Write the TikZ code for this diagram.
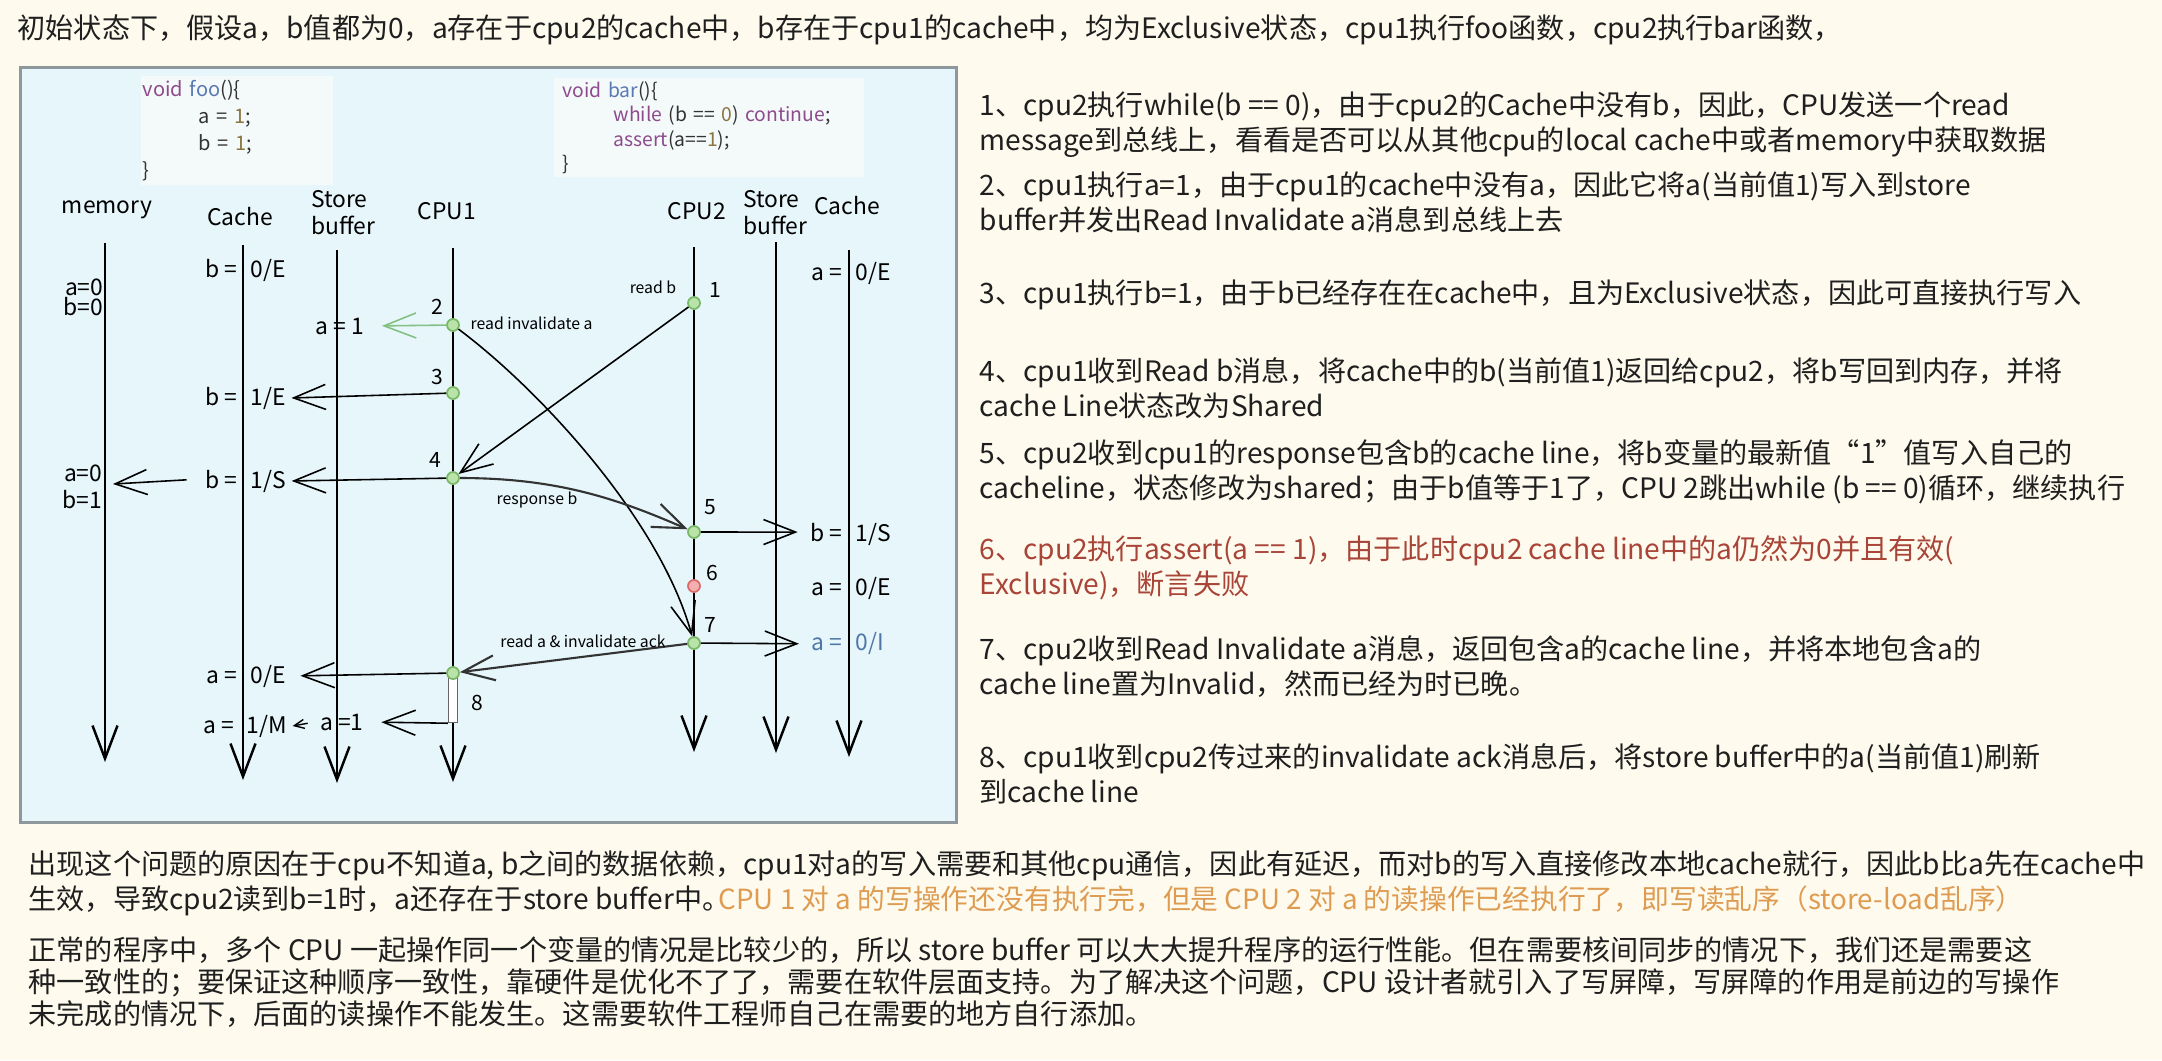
\documentclass[tikz,border=0pt]{standalone}
\usepackage{fontspec}
\setmainfont{Noto Sans CJK SC}
\usetikzlibrary{arrows.meta}
\definecolor{paper}{HTML}{FEFBEE}
\definecolor{panel}{HTML}{E6F6FB}
\definecolor{panelrule}{HTML}{8E979C}
\definecolor{codebg}{HTML}{F4F9FA}
\definecolor{kw}{HTML}{8E4B8C}
\definecolor{fn}{HTML}{5A78B4}
\definecolor{lit}{HTML}{8A7440}
\definecolor{okfill}{HTML}{B9E3A9}
\definecolor{okrule}{HTML}{78B866}
\definecolor{badfill}{HTML}{F4B0B0}
\definecolor{badrule}{HTML}{DD6A6A}
\definecolor{storeln}{HTML}{84BF84}
\definecolor{fail}{HTML}{A94438}
\definecolor{hint}{HTML}{DE9C52}
\definecolor{inval}{HTML}{4F77A6}
\definecolor{ink}{HTML}{1F1F1F}

\begin{document}
\begin{tikzpicture}[x=0.1mm,y=-0.1mm,
  txt/.style={anchor=base west,inner sep=0,align=left,font=\fontsize{8}{9.7}\selectfont,text=ink},
  code/.style={anchor=north west,fill=codebg,align=left,font=\fontsize{5.7}{7.7}\selectfont,text=black!80},
  hd/.style={inner sep=0,font=\fontsize{6.5}{7.7}\selectfont,align=left},
  st/.style={inner sep=0.5mm,font=\fontsize{6.5}{7.6}\selectfont},
  ev/.style={circle,draw=okrule,fill=okfill,line width=0.5pt,minimum size=1.2mm,inner sep=0},
  num/.style={inner sep=0,font=\fontsize{6}{7}\selectfont},
  lbl/.style={inner sep=0,font=\fontsize{4.5}{5}\selectfont},
  life/.style={line width=0.7pt,-{Straight Barb[length=3.3mm,width=2.5mm]}},
  msg/.style={line width=0.45pt,-{Straight Barb[length=3.2mm,width=2.5mm]}}]
  \fill[paper] (0,0) rectangle (2162,1060);
  \useasboundingbox (0,0) rectangle (2162,1060);
  \node[txt] (intro) at (17,38) {初始状态下，假设a，b值都为0，a存在于cpu2的cache中，b存在于cpu1的cache中，均为Exclusive状态，cpu1执行foo函数，cpu2执行bar函数，};
  % diagram panel
  \draw[panelrule,fill=panel,line width=0.3mm] (20,67) rectangle (956,822);
  \node[code,text width=18.8mm,inner xsep=0.2mm,inner ysep=0.4mm] (foo) at (140,75) {\textcolor{kw}{void} \textcolor{fn}{foo}()\{\\\hspace*{5.6mm}a = \textcolor{lit}{1};\\\hspace*{5.6mm}b = \textcolor{lit}{1};\\\}};
  \node[code,text width=29.2mm,inner xsep=0.9mm,inner ysep=0.35mm,font=\fontsize{5.5}{6.97}\selectfont] (bar) at (553,77) {\textcolor{kw}{void} \textcolor{fn}{bar}()\{\\\hspace*{5.1mm}\textcolor{kw}{while} (b == \textcolor{lit}{0}) \textcolor{kw}{continue};\\\hspace*{5.1mm}\textcolor{kw}{assert}(a==\textcolor{lit}{1});\\\}};
  \node[hd] (hmem) at (107,210) {memory};
  \node[hd] (hc1) at (240,217) {Cache};
  \node[hd] (hsb1) at (343,213) {Store\\buffer};
  \node[hd] (hcpu1) at (447,211) {CPU1};
  \node[hd] (hcpu2) at (697,211) {CPU2};
  \node[hd] (hsb2) at (775,213) {Store\\buffer};
  \node[hd] (hc2) at (847,206) {Cache};
  \foreach \x/\t/\b in {105/243/762,243/245/780,337/250/783,453/248/782,694/247/752,776/242/753,849/250/757}
    \draw[life] (\x,\t) -- (\x,\b);
  % memory contents
  \node[st,anchor=east,align=right,inner sep=0,font=\fontsize{6.5}{5.7}\selectfont] (mem0) at (104,297) {a=0\\b=0};
  \node[st,anchor=east,align=right,inner sep=0,font=\fontsize{6.5}{7.7}\selectfont] (mem1) at (103,487) {a=0\\b=1};
  \coordinate (mw) at (113,484);
  % cpu1 cache
  \node[st,anchor=base east] (c1k1) at (243,277) {b =};
  \node[st,anchor=base west] (c1v1) at (245,277) {0/E};
  \node[st,anchor=base east] (c1k2) at (243,405) {b =};
  \node[st,anchor=base west] (c1v2) at (245,405) {1/E};
  \node[st,anchor=base east] (c1k3) at (243,488) {b =};
  \node[st,anchor=base west] (c1v3) at (245,488) {1/S};
  \node[st,anchor=base east] (c1k4) at (243,683) {a =};
  \node[st,anchor=base west] (c1v4) at (245,683) {0/E};
  \node[st,anchor=base east] (c1k5) at (240,733) {a =};
  \node[st,anchor=base west] (c1v5) at (241,733) {1/M};
  % store buffers
  \node[st] (sb1) at (340,326) {a = 1};
  \node[st] (sb2) at (342,722) {a =1};
  % cpu2 cache
  \node[st,anchor=base east] (c2k1) at (848,280) {a =};
  \node[st,anchor=base west] (c2v1) at (850,280) {0/E};
  \node[st,anchor=base east] (c2k2) at (848,541) {b =};
  \node[st,anchor=base west] (c2v2) at (850,541) {1/S};
  \node[st,anchor=base east] (c2k3) at (848,595) {a =};
  \node[st,anchor=base west] (c2v3) at (850,595) {0/E};
  \node[st,anchor=base east,text=inval] (c2k4) at (848,650) {a =};
  \node[st,anchor=base west,text=inval] (c2v4) at (850,650) {0/I};
  % events
  \node[draw=black!60,fill=white,minimum width=0.9mm,minimum height=4.5mm,inner sep=0] (flush) at (453,700) {};
  \node[ev] (e1) at (694,303) {};
  \node[ev] (e2) at (453,325) {};
  \node[ev] (e3) at (453,393) {};
  \node[ev] (e4) at (453,478) {};
  \node[ev] (e5) at (694,532) {};
  \node[ev,draw=badrule,fill=badfill] (e6) at (694,586) {};
  \node[ev] (e7) at (694,643) {};
  \node[ev] (ack) at (453,673) {};
  \node[num] (n1) at (715,290) {1};
  \node[num] (n2) at (437,307) {2};
  \node[num] (n3) at (437,377) {3};
  \node[num] (n4) at (435,460) {4};
  \node[num] (n5) at (710,507) {5};
  \node[num] (n6) at (712,573) {6};
  \node[num] (n7) at (710,625) {7};
  \node[num] (n8) at (477,703) {8};
  % messages
  \draw[msg,storeln,shorten >=1.2mm] (e2) -- (sb1.east);
  \draw[msg] (e3) -- (c1v2.east);
  \draw[msg] (e4) -- (c1v3.east);
  \draw[msg,shorten <=1.3mm] (c1k3.west) -- (mw);
  \draw[msg] (e1) -- (e4);
  \node[lbl] (rdb) at (653,287) {read b};
  \draw[msg] (e2) .. controls (540,390) and (660,520) .. (e7);
  \node[lbl,anchor=west] (rdinv) at (470,323) {read invalidate a};
  \draw[msg,line width=0.6pt,black!80] (e4) .. controls (560,478) and (620,500) .. (e5);
  \node[lbl] (resp) at (537,500) {response b};
  \draw[msg,shorten >=0.7mm] (e5) -- (c2k2.west);
  \draw[msg,shorten >=0.7mm] (e7) -- (c2k4.west);
  \draw[msg,line width=0.6pt,black!80] (e7) -- (ack);
  \node[lbl] (invack) at (583,641) {read a \& invalidate ack};
  \draw[msg,shorten >=0.9mm] (ack) -- (c1v4.east);
  \draw[msg,shorten >=1.2mm] (flush.south west) -- (sb2.east);
  \draw[line width=0.4pt,-{Straight Barb[length=1mm,width=0.9mm]},shorten <=0.7mm] (sb2.west) -- (c1v5.east);
  % explanation (base = last line)
  \node[txt] (p1) at (979,150) {1、cpu2执行while(b == 0)，由于cpu2的Cache中没有b，因此，CPU发送一个read\\message到总线上，看看是否可以从其他cpu的local cache中或者memory中获取数据};
  \node[txt] (p2) at (979,230) {2、cpu1执行a=1，由于cpu1的cache中没有a，因此它将a(当前值1)写入到store\\buffer并发出Read Invalidate a消息到总线上去};
  \node[txt] (p3) at (979,303) {3、cpu1执行b=1，由于b已经存在在cache中，且为Exclusive状态，因此可直接执行写入};
  \node[txt] (p4) at (979,416) {4、cpu1收到Read b消息，将cache中的b(当前值1)返回给cpu2，将b写回到内存，并将\\cache Line状态改为Shared};
  \node[txt] (p5) at (979,498) {5、cpu2收到cpu1的response包含b的cache line，将b变量的最新值“1”值写入自己的\\cacheline，状态修改为shared；由于b值等于1了，CPU 2跳出while (b == 0)循环，继续执行};
  \node[txt,text=fail] (p6) at (979,594) {6、cpu2执行assert(a == 1)，由于此时cpu2 cache line中的a仍然为0并且有效(\\Exclusive)，断言失败};
  \node[txt] (p7) at (979,694) {7、cpu2收到Read Invalidate a消息，返回包含a的cache line，并将本地包含a的\\cache line置为Invalid，然而已经为时已晚。};
  \node[txt] (p8) at (979,802) {8、cpu1收到cpu2传过来的invalidate ack消息后，将store buffer中的a(当前值1)刷新\\到cache line};
  \node[txt] (why) at (28,909) {出现这个问题的原因在于cpu不知道a, b之间的数据依赖，cpu1对a的写入需要和其他cpu通信，因此有延迟，而对b的写入直接修改本地cache就行，因此b比a先在cache中\\生效，导致cpu2读到b=1时，a还存在于store buffer中。};
  \node[txt,text=hint,font=\fontsize{7.9}{9.7}\selectfont] (order) at (718,909) {CPU 1 对 a 的写操作还没有执行完，但是 CPU 2 对 a 的读操作已经执行了，即写读乱序（store-load乱序）};
  \node[txt,font=\fontsize{8}{9}\selectfont] (fix) at (28,1024) {正常的程序中，多个 CPU 一起操作同一个变量的情况是比较少的，所以 store buffer 可以大大提升程序的运行性能。但在需要核间同步的情况下，我们还是需要这\\种一致性的；要保证这种顺序一致性，靠硬件是优化不了了，需要在软件层面支持。为了解决这个问题，CPU 设计者就引入了写屏障，写屏障的作用是前边的写操作\\未完成的情况下，后面的读操作不能发生。这需要软件工程师自己在需要的地方自行添加。};
\end{tikzpicture}
\end{document}
